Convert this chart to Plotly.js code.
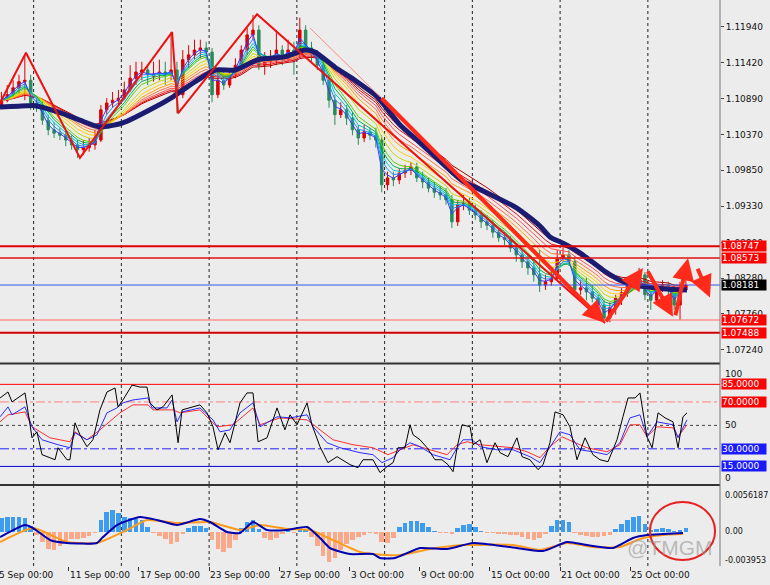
<!DOCTYPE html>
<html><head><meta charset="utf-8">
<script src="https://cdn.plot.ly/plotly-3.0.1.min.js"></script>
<style>html,body{margin:0;padding:0;background:#ececec}#chart{width:770px;height:585px}</style>
</head><body><div id="chart"></div>
<script>
// ---- Data (EURUSD, 8-hour candles, x = trading days since 5 Sep 00:00) ----
const open = [1.1080,1.1087,1.1095,1.1105,1.1114,1.1116,1.1083,1.1080,1.1058,1.1044,
1.1039,1.1036,1.1029,1.1022,1.1015,1.1018,1.1022,1.1029,1.1073,1.1083,
1.1087,1.1090,1.1102,1.1119,1.1128,1.1131,1.1122,1.1125,1.1128,1.1124,
1.1131,1.1095,1.1146,1.1153,1.1160,1.1163,1.1157,1.1095,1.1116,1.1109,
1.1124,1.1138,1.1160,1.1182,1.1189,1.1138,1.1143,1.1146,1.1160,1.1148,
1.1160,1.1153,1.1189,1.1163,1.1153,1.1138,1.1116,1.1087,1.1066,1.1073,
1.1061,1.1044,1.1032,1.1041,1.1036,1.1029,1.0964,1.0974,1.0971,1.0981,
1.0985,1.0990,1.0974,1.0968,1.0959,1.0953,1.0949,1.0942,1.0910,1.0935,
1.0937,1.0927,1.0920,1.0910,1.0905,1.0895,1.0887,1.0884,1.0872,1.0862,
1.0852,1.0843,1.0833,1.0818,1.0823,1.0828,1.0857,1.0862,1.0852,1.0811,
1.0814,1.0808,1.0799,1.0789,1.0770,1.0785,1.0799,1.0807,1.0818,1.0828,
1.0833,1.0804,1.0796,1.0814,1.0818,1.0811,1.0789,1.0811];
const high = [1.1099,1.1109,1.1116,1.1124,1.1153,1.1124,1.1090,1.1087,1.1066,1.1055,
1.1047,1.1044,1.1036,1.1029,1.1029,1.1032,1.1044,1.1080,1.1090,1.1099,
1.1102,1.1114,1.1138,1.1143,1.1143,1.1138,1.1143,1.1146,1.1143,1.1186,
1.1143,1.1160,1.1167,1.1175,1.1175,1.1172,1.1163,1.1131,1.1128,1.1134,
1.1148,1.1167,1.1192,1.1211,1.1196,1.1157,1.1160,1.1189,1.1167,1.1175,
1.1172,1.1207,1.1196,1.1172,1.1160,1.1146,1.1124,1.1095,1.1084,1.1080,
1.1070,1.1051,1.1051,1.1047,1.1047,1.1036,1.0983,1.0983,1.0988,1.0993,
1.0997,1.0996,1.0983,1.0974,1.0968,1.0962,1.0959,1.0949,1.0942,1.0949,
1.0945,1.0935,1.0927,1.0920,1.0913,1.0901,1.0895,1.0889,1.0878,1.0869,
1.0862,1.0852,1.0869,1.0833,1.0843,1.0869,1.0872,1.0869,1.0860,1.0825,
1.0830,1.0818,1.0804,1.0796,1.0793,1.0804,1.0814,1.0825,1.0833,1.0843,
1.0837,1.0811,1.0821,1.0825,1.0823,1.0818,1.0823,1.0825];
const low = [1.1076,1.1084,1.1090,1.1095,1.1087,1.1073,1.1070,1.1051,1.1036,1.1032,
1.1029,1.1020,1.1015,1.1003,1.1007,1.1012,1.1015,1.1026,1.1066,1.1076,
1.1079,1.1087,1.1099,1.1109,1.1116,1.1109,1.1114,1.1116,1.1109,1.1116,
1.1068,1.1090,1.1134,1.1146,1.1148,1.1146,1.1084,1.1090,1.1102,1.1105,
1.1119,1.1134,1.1153,1.1175,1.1131,1.1124,1.1134,1.1138,1.1138,1.1143,
1.1124,1.1148,1.1153,1.1143,1.1131,1.1109,1.1076,1.1051,1.1061,1.1051,
1.1036,1.1022,1.1026,1.1029,1.1018,1.0953,1.0956,1.0962,1.0965,1.0974,
1.0978,1.0968,1.0959,1.0953,1.0945,1.0942,1.0935,1.0901,1.0904,1.0927,
1.0920,1.0913,1.0901,1.0898,1.0887,1.0881,1.0876,1.0866,1.0852,1.0843,
1.0833,1.0823,1.0808,1.0811,1.0817,1.0825,1.0852,1.0846,1.0805,1.0804,
1.0796,1.0793,1.0779,1.0763,1.0764,1.0775,1.0789,1.0801,1.0811,1.0820,
1.0796,1.0782,1.0789,1.0808,1.0802,1.0782,1.0767,1.0808];
const close = [1.1087,1.1095,1.1105,1.1114,1.1116,1.1083,1.1080,1.1058,1.1044,1.1039,
1.1036,1.1029,1.1022,1.1015,1.1018,1.1022,1.1029,1.1073,1.1083,1.1087,
1.1090,1.1102,1.1119,1.1128,1.1131,1.1124,1.1125,1.1128,1.1124,1.1131,
1.1095,1.1146,1.1153,1.1160,1.1163,1.1157,1.1095,1.1116,1.1109,1.1124,
1.1138,1.1160,1.1182,1.1189,1.1138,1.1143,1.1146,1.1160,1.1148,1.1160,
1.1153,1.1189,1.1163,1.1153,1.1138,1.1116,1.1087,1.1066,1.1073,1.1061,
1.1044,1.1032,1.1041,1.1036,1.1029,1.0964,1.0974,1.0971,1.0981,1.0985,
1.0990,1.0974,1.0968,1.0959,1.0953,1.0949,1.0942,1.0910,1.0935,1.0937,
1.0927,1.0920,1.0910,1.0905,1.0895,1.0887,1.0884,1.0872,1.0862,1.0852,
1.0843,1.0833,1.0818,1.0823,1.0828,1.0857,1.0862,1.0852,1.0811,1.0814,
1.0808,1.0799,1.0789,1.0770,1.0785,1.0799,1.0807,1.0818,1.0828,1.0833,
1.0804,1.0796,1.0814,1.0818,1.0811,1.0789,1.0811,1.0818];

// thick slow moving average
const slowMaX = [0.085,1.62,2.08,3.50,4.64,5.78,7.09,8.63,9.94,10.91,12.34,13.48,14.79,16.32,17.46,18.03,19.17,20.31,21.57,22.88,23.85,25.73,26.47,27.61,29.54,30.85,31.42,32.17,33.13,34.44,35.41,36.15,37.12,38.26,39.23];
const slowMa  = [1.1077,1.1079,1.1079,1.1069,1.1058,1.1048,1.1054,1.1073,1.1092,1.1109,1.1131,1.1131,1.1146,1.1150,1.1160,1.1157,1.1135,1.1116,1.1092,1.1051,1.1029,1.0985,1.0969,1.0955,1.0930,1.0904,1.0888,1.0879,1.0865,1.0840,1.0825,1.0818,1.0815,1.0812,1.0811];
const ribbonPeriods = [2,3,4,5,6,8,10,12,14,16,18,20];
const ribbonColors = ['#3a3aff','#1e90ff','#00c8d8','#00b050','#60d000','#c8d800','#ffd000','#ffa000','#ff7040','#ff5050','#e81010','#b00000'];

// zigzag and drawn objects
const zigX = [0.085,1.567,4.64,9.89,10.23,14.73,34.56];
const zigY = [1.1083,1.1156,1.1003,1.1186,1.1068,1.1212,1.0763];
const trendX = [17.75,21.74];
const trendY = [1.1192,1.1092];
const arrowTails = [[21.74,1.1092],[34.56,1.0763],[36.95,1.0840],[38.55,1.0772],[39.80,1.0844]];
const arrowHeads = [[34.56,1.0763],[36.72,1.0843],[38.43,1.0772],[39.29,1.0857],[40.54,1.0800]];
const levelPrices = [1.08747,1.08573,1.08181,1.07672,1.07488];
const levelColors = ['#e00000','#e01010','#3355ee','#ff9090','#d00000'];
const levelWidths = [2,1.5,1,1.5,2];
const levelBoxColors = ['#ff0000','#ff0000','#000000','#ff0000','#ff0000'];
const priceTicks = [1.11940,1.11420,1.10890,1.10370,1.09850,1.09330,1.08800,1.08280,1.07760,1.07240];

// stochastic (3 lines)
const stochKX = [0.09,0.54,0.77,1.51,1.62,1.91,2.19,2.48,2.93,3.22,3.39,3.90,4.07,4.36,4.64,5.04,5.38,5.78,6.18,6.64,6.81,7.09,7.61,8.06,8.46,8.63,9.03,9.37,9.89,10.06,10.23,10.46,10.91,11.48,11.88,12.22,12.51,12.91,13.19,13.76,14.16,14.50,14.79,15.30,15.87,16.32,16.61,17.01,17.58,17.86,18.32,18.77,19.29,20.03,20.48,20.77,21.34,21.74,22.14,22.48,22.76,23.16,23.45,23.62,24.02,24.42,24.87,25.27,25.61,25.90,26.13,26.41,26.87,27.04,27.44,27.83,28.29,28.58,29.03,29.54,29.83,30.28,30.74,31.03,31.42,31.71,32.17,32.56,32.96,33.42,33.87,34.27,34.73,35.24,35.58,35.87,36.27,36.55,36.95,37.24,37.58,37.98,38.43,38.72,39.00,39.23];
const stochK  = [73.4,78.5,70.0,77.7,67.5,39.4,44.5,25.0,22.4,20.7,30.9,20.7,20.7,52.2,42.0,31.8,37.7,63.2,78.5,81.9,65.8,71.7,84.4,82.7,82.7,69.2,63.2,65.8,76.0,56.4,35.2,63.2,64.9,67.5,60.7,48.8,29.2,43.7,35.2,69.2,77.7,77.7,36.0,39.4,64.9,46.2,59.0,50.5,69.2,50.5,31.8,18.2,23.3,16.5,13.9,20.7,20.7,9.7,14.8,18.2,30.9,30.9,50.5,42.0,37.7,30.9,20.7,20.7,16.5,10.5,30.9,50.5,48.8,33.5,37.7,18.2,35.2,26.7,23.3,39.4,23.3,20.7,12.2,16.5,35.2,61.5,59.0,48.8,20.7,39.4,25.0,20.7,19.0,37.7,57.3,73.4,73.4,77.7,40.3,30.9,60.7,56.4,53.0,30.9,57.3,60.7];
const stochDX = [0.09,0.54,0.77,1.51,1.91,2.48,3.39,4.07,4.36,5.04,5.61,6.18,6.75,7.09,7.66,8.52,8.75,9.60,9.89,10.17,10.46,11.48,12.22,12.62,13.19,13.76,14.50,14.90,15.87,16.61,17.58,17.92,18.72,19.46,20.60,21.34,21.85,22.48,22.88,23.45,24.02,24.76,25.73,26.13,26.47,26.98,27.44,28.40,29.32,30.28,30.85,31.42,31.99,32.56,33.13,33.87,34.67,35.41,35.98,36.55,36.95,37.52,38.43,38.72,39.23];
const stochD  = [57.3,65.8,59.0,65.8,48.8,37.7,33.5,30.9,43.7,37.7,42.0,60.7,64.9,69.2,71.7,73.4,64.9,64.9,71.7,53.0,61.5,64.9,54.7,44.5,46.2,60.7,69.2,48.8,57.3,56.4,59.0,48.8,35.2,30.9,26.7,25.0,18.2,22.4,29.2,35.2,31.8,25.0,20.7,30.9,37.7,37.7,31.8,29.2,29.2,23.3,18.2,31.8,44.5,42.0,29.2,27.5,25.0,35.2,56.4,59.0,40.3,53.0,50.5,39.4,54.7];
const stochSX = [0.09,0.54,1.51,1.91,2.93,4.07,4.36,5.04,5.78,6.92,7.66,8.52,8.80,9.94,10.34,11.48,12.45,13.36,14.50,14.90,16.04,17.58,18.32,19.06,20.20,21.34,22.19,22.88,23.62,24.59,25.56,26.13,26.70,27.44,29.32,30.11,30.85,31.42,32.11,32.74,33.53,34.67,35.41,35.98,36.55,36.95,37.52,38.43,38.72,39.23];
const stochS  = [53.0,59.0,61.5,48.8,39.4,36.0,44.5,37.7,46.2,60.7,67.5,67.5,63.2,63.2,60.7,63.2,48.8,50.5,64.9,50.5,56.4,54.7,46.2,37.7,33.5,30.9,25.0,29.2,33.5,29.2,25.0,33.5,36.0,33.5,30.9,27.5,22.4,31.8,40.3,36.0,30.9,27.5,33.5,50.5,50.5,40.3,48.8,47.9,40.3,50.5];
const stochLevels = [85,70,50,30,15];

// MACD
const macdHist = [0.00172,0.00184,0.00184,0.00184,0.00172,0.00074,-0.00037,-0.00123,-0.00209,-0.00221,
-0.00172,-0.0011,-0.00086,-0.00086,-0.00074,-0.00049,-0.00012,0.00147,0.00245,0.0027,
0.00233,0.00184,0.00172,0.0016,0.00147,0.00061,-0.00012,-0.00049,-0.00086,-0.00147,
-0.00123,-0.00025,0.00049,0.00074,0.00074,0.00049,-0.00098,-0.00209,-0.00245,-0.00196,
-0.00098,0.00049,0.00123,0.00147,0.00037,-0.00074,-0.00098,-0.00074,-0.00025,0.00025,
-0.00012,0.00049,0.00037,-0.00061,-0.00172,-0.00294,-0.00368,-0.00319,-0.00221,-0.00147,
-0.00098,-0.00061,-0.00037,-0.00012,-0.00025,-0.00123,-0.00135,-0.00074,0.00061,0.0011,
0.00135,0.00135,0.0011,0.00061,0.00012,-0.00012,-0.00012,-0.00025,0.00049,0.00086,
0.00098,0.00061,0.00012,-0.00012,-0.00012,-0.00025,-0.00025,-0.00037,-0.00037,-0.00061,
-0.00086,-0.00098,-0.00074,-0.00025,0.00074,0.00147,0.00147,0.00123,-0.00012,-0.00037,
-0.00049,-0.00061,-0.00061,-0.00049,-0.00037,0.00037,0.00098,0.00147,0.00184,0.00196,
0.00098,0.00025,0.00037,0.00049,0.00037,0.00012,0.00025,0.00049];
const macdX = [0.09,1.51,1.97,2.93,3.90,5.61,5.95,6.75,8.06,9.03,10.17,11.48,12.05,13.02,13.76,14.50,15.30,16.44,17.58,18.32,18.89,20.03,21.34,21.74,22.59,24.02,25.56,27.04,29.15,31.03,32.39,33.53,35.01,36.15,36.95,37.86,39.00];
const macdMain = [-0.00062,0.00086,0.00049,-0.00098,-0.00135,-0.00135,-0.00062,0.00086,0.00185,0.00148,0.00086,0.0016,0.00123,0,-0.00012,0.00123,0.00025,0.00025,0.00062,-0.00074,-0.00197,-0.00271,-0.00271,-0.0032,-0.0032,-0.00197,-0.00209,-0.00135,-0.00185,-0.00234,-0.00123,-0.0016,-0.00197,-0.00074,-0.00037,-0.00025,-0.00012];
const sigX = [0.09,1.97,3.90,5.61,7.32,8.46,10.17,12.05,13.76,14.90,16.44,17.75,19.06,20.60,22.14,22.88,24.59,26.47,29.32,30.85,32.39,33.87,35.41,36.55,37.86,39.00];
const macdSignal = [-0.00123,0.00049,-0.00123,-0.00135,0.00025,0.00148,0.00111,0.00123,0.00025,0.00086,0.00037,0.00025,-0.00098,-0.00246,-0.00283,-0.00283,-0.00209,-0.0016,-0.0016,-0.00221,-0.00135,-0.00185,-0.00185,-0.00086,-0.00037,-0.00025];

// axis labels
const labelDays = [0,4,8,12,16,20,24,28,32,36];
const labelText = ['5 Sep 00:00','11 Sep 00:00','17 Sep 00:00','23 Sep 00:00','27 Sep 00:00','3 Oct 00:00','9 Oct 00:00','15 Oct 00:00','21 Oct 00:00','25 Oct 00:00'];
const gridDays = [2,7,12,17,22,27,32,37];

// ---- build ----
const tBar = close.map((_, k) => k / 3 + 1 / 6);
function ema(src, n) { const a = 2 / (n + 1); const out = [src[0]]; for (let i = 1; i < src.length; i++) out.push(a * src[i] + (1 - a) * out[i - 1]); return out; }

const FONT = 'DejaVu Sans';
const traces = [];
traces.push({type:'candlestick', x:tBar, open:open, high:high, low:low, close:close, xaxis:'x', yaxis:'y',
  increasing:{line:{color:'#dd0000',width:1}, fillcolor:'#dd0000'},
  decreasing:{line:{color:'#2a8c5a',width:1}, fillcolor:'#2a8c5a'}, whiskerwidth:0, hoverinfo:'skip'});
ribbonPeriods.slice().reverse().forEach((p, j) => {
  const i = ribbonPeriods.length - 1 - j;
  traces.push({type:'scatter', mode:'lines', x:tBar, y:ema(close, p), yaxis:'y', line:{color:ribbonColors[i], width:1}, hoverinfo:'skip'});
});
traces.push({type:'scatter', mode:'lines', x:slowMaX, y:slowMa, yaxis:'y', line:{color:'#1b1b72', width:5, shape:'spline', smoothing:0.6}, hoverinfo:'skip'});
traces.push({type:'scatter', mode:'lines', x:zigX, y:zigY, yaxis:'y', line:{color:'#ee1111', width:2}, hoverinfo:'skip'});
traces.push({type:'scatter', mode:'lines', x:trendX, y:trendY, yaxis:'y', line:{color:'#ff8a80', width:1}, hoverinfo:'skip'});

// stochastic
traces.push({type:'scatter', mode:'lines', x:stochSX, y:stochS, yaxis:'y2', line:{color:'#ff3030', width:1}, hoverinfo:'skip'});
traces.push({type:'scatter', mode:'lines', x:stochDX, y:stochD, yaxis:'y2', line:{color:'#2b2bff', width:1}, hoverinfo:'skip'});
traces.push({type:'scatter', mode:'lines', x:stochKX, y:stochK, yaxis:'y2', line:{color:'#000000', width:1}, hoverinfo:'skip'});

// MACD
traces.push({type:'bar', x:tBar, y:macdHist, yaxis:'y3', width:0.26,
  marker:{color:macdHist.map(v => v >= 0 ? '#3d9bf0' : '#f9a98a'), line:{width:0}}, hoverinfo:'skip'});
traces.push({type:'scatter', mode:'lines', x:sigX, y:macdSignal, yaxis:'y3', line:{color:'#ff9a1a', width:2, shape:'spline', smoothing:0.5}, hoverinfo:'skip'});
traces.push({type:'scatter', mode:'lines', x:macdX, y:macdMain, yaxis:'y3', line:{color:'#0000b0', width:2, shape:'spline', smoothing:0.5}, hoverinfo:'skip'});

const D1 = [0.3604, 1], D2 = [0.1449, 0.3551], D3 = [0, 0.1413];
const shapes = [];
gridDays.forEach(d => {
  [D1, D2, D3].forEach(D => shapes.push({type:'line', xref:'x', yref:'paper', x0:d, x1:d, y0:D[0], y1:D[1], line:{color:'#222', width:1, dash:'dot'}, layer:'below'}));
});
levelPrices.forEach((p, i) => shapes.push({type:'line', xref:'paper', yref:'y', x0:0, x1:1, y0:p, y1:p, line:{color:levelColors[i], width:levelWidths[i]}}));
const stochLevelStyle = [['#ff0000','solid'],['#ff8080','dashdot'],['#444','dot'],['#2020ff','dashdot'],['#0000cc','solid']];
stochLevels.forEach((v, i) => shapes.push({type:'line', xref:'paper', yref:'y2', x0:0, x1:1, y0:v, y1:v, line:{color:stochLevelStyle[i][0], width:1, dash:stochLevelStyle[i][1]}, layer:'below'}));
// panel separators and right axis line
shapes.push({type:'line', xref:'paper', yref:'paper', x0:0, x1:1, y0:0.3578, y1:0.3578, line:{color:'#333', width:2}});
shapes.push({type:'line', xref:'paper', yref:'paper', x0:0, x1:1, y0:0.1431, y1:0.1431, line:{color:'#333', width:2}});
shapes.push({type:'line', xref:'paper', yref:'paper', x0:1, x1:1, y0:0, y1:1, line:{color:'#777', width:1}});
// red circle drawn on MACD panel
shapes.push({type:'circle', xref:'x', yref:'y3', x0:37.12, x1:40.83, y0:-0.00344, y1:0.00369, line:{color:'#e82020', width:2}});

const annotations = [];
labelDays.forEach((d, i) => annotations.push({xref: i === 0 ? 'paper' : 'x', yref:'paper', x: i === 0 ? 0 : d, y:0, xanchor:'left', yanchor:'top', yshift:-2, xshift: i === 0 ? -3 : -1, text:labelText[i], showarrow:false, font:{family:FONT, size:9, color:'#111'}}));
levelPrices.forEach((p, i) => annotations.push({xref:'paper', yref:'y', x:1, y:p, xanchor:'left', yanchor:'middle', xshift:1, text:p.toFixed(5), showarrow:false, bgcolor:levelBoxColors[i], width:44, height:10, borderpad:0, align:'left', font:{family:FONT, size:9, color:'#ffffff'}}));
const stochBox = [['85.0000',85,'#ff0000'],['70.0000',70,'#ff0000'],['30.0000',30,'#1a1aff'],['15.0000',15,'#1a1aff']];
stochBox.forEach(s => annotations.push({xref:'paper', yref:'y2', x:1, y:s[1], xanchor:'left', yanchor:'middle', xshift:1, text:s[0], showarrow:false, bgcolor:s[2], width:44, height:10, borderpad:0, align:'left', font:{family:FONT, size:9, color:'#ffffff'}}));
// plain side labels: [text, paper y, font size]
const plainLabels = [['100',0.3393,9],['50',0.2496,9],['0',0.1555,9],['0.0056187',0.1254,8],['0.00',0.0601,8],['-0.003953',0.0106,8]];
plainLabels.forEach(s => annotations.push({xref:'paper', yref:'paper', x:1, y:s[1], xanchor:'left', yanchor:'middle', xshift:3, text:s[0], showarrow:false, font:{family:FONT, size:s[2], color:'#111'}}));
arrowHeads.forEach((h, i) => annotations.push({xref:'x', yref:'y', axref:'x', ayref:'y', x:h[0], y:h[1], ax:arrowTails[i][0], ay:arrowTails[i][1], text:'', showarrow:true, arrowhead:2, arrowsize:1.1, arrowwidth:4, arrowcolor:'#ff2a1a', standoff:0, startstandoff:0}));
annotations.push({xref:'paper', yref:'paper', x:0.992, y:0.033, xanchor:'right', yanchor:'middle', text:'@TMGM', showarrow:false, font:{family:'Liberation Sans', size:21, color:'rgba(150,150,150,0.6)'}});

const layout = {
  width:770, height:585, margin:{l:0, r:50, t:0, b:19},
  paper_bgcolor:'#ececec', plot_bgcolor:'#ececec', showlegend:false, boxgap:0.4, bargap:0,
  xaxis:{range:[0.085, 41.11], anchor:'y3', showgrid:false, zeroline:false, tickvals:labelDays, ticks:'outside', ticklen:4, tickcolor:'#333', showticklabels:false, rangeslider:{visible:false}, fixedrange:true},
  yaxis:{domain:D1, range:[1.07061, 1.12328], side:'right', anchor:'x', tickvals:priceTicks, ticktext:priceTicks.map(v => v.toFixed(5)), ticks:'outside', ticklen:3, tickcolor:'#444', showgrid:false, zeroline:false, tickfont:{family:FONT, size:9, color:'#111'}},
  yaxis2:{domain:D2, range:[0, 101.5], side:'right', anchor:'x', showticklabels:false, ticks:'', showgrid:false, zeroline:false},
  yaxis3:{domain:D3, range:[-0.00418, 0.00566], side:'right', anchor:'x', showticklabels:false, ticks:'', showgrid:false, zeroline:false},
  shapes:shapes, annotations:annotations
};
Plotly.newPlot('chart', traces, layout, {displayModeBar:false, staticPlot:true});
</script></body></html>
